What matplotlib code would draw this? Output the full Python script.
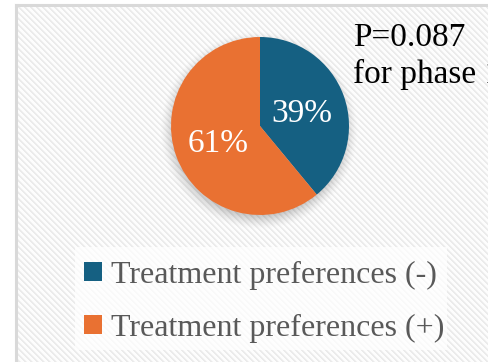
import numpy as np
import matplotlib
matplotlib.use('Agg')
import matplotlib.pyplot as plt
from matplotlib.patches import Rectangle, Patch

plt.rcParams['font.family'] = ['Liberation Serif', 'DejaVu Serif']

labels = ['Treatment preferences (-)', 'Treatment preferences (+)']
shares = [39, 61]
colors = ['#156082', '#e97132']
note = 'P=0.087\nfor phase 1'

W, H = 488, 362
fig = plt.figure(figsize=(W / 100, H / 100), dpi=100)
fig.patch.set_facecolor('white')

# chart area with diagonal stripe fill (one pixel per image cell)
x0, y0 = 16, 5
bw, bh = W - x0, H - y0
bg = fig.add_axes([x0 / W, 0, bw / W, bh / H])
cols, rows = np.meshgrid(np.arange(bw), np.arange(bh))
phase = (cols - rows) % 6
tone = np.where(phase < 2, 0.925, np.where(phase == 2, 0.96, 0.995))
bg.imshow(np.dstack([tone, tone, tone]), extent=(0, bw, bh, 0),
          interpolation='nearest', aspect='auto')
bg.set_xlim(0, bw)
bg.set_ylim(bh, 0)
bg.axis('off')
fig.add_artist(plt.Line2D([x0 / W, x0 / W], [0, bh / H], color='#d9d9d9', lw=2.2))
fig.add_artist(plt.Line2D([x0 / W, 1], [bh / H, bh / H], color='#d9d9d9', lw=2.2))

# pie
cx, cy, r = 260, 126, 89
pad = 1.2
ax = fig.add_axes([(cx - r * pad) / W, (H - cy - r * pad) / H,
                   2 * r * pad / W, 2 * r * pad / H])
ax.set_aspect('equal')

# soft shadow under the pie
g = np.linspace(-pad, pad, 300)
xx, yy = np.meshgrid(g, g)
dist = np.sqrt((xx + 0.01) ** 2 + (yy + 0.05) ** 2)
alpha = np.clip((1.12 - dist) / 0.16, 0, 1) ** 1.5 * 0.2
shade = np.zeros((300, 300, 4))
shade[..., 3] = alpha
ax.imshow(shade, extent=(-pad, pad, -pad, pad), origin='lower', zorder=0)

wedges, texts, autotexts = ax.pie(
    shares, colors=colors, startangle=90, counterclock=False,
    autopct='%d%%', pctdistance=0.5,
    textprops=dict(color='white', fontsize=24),
    wedgeprops=dict(linewidth=0))
for w in wedges:
    w.set_zorder(2)
for t in autotexts:
    t.set_zorder(3)
    t.set_y(t.get_position()[1] - 0.03)
ax.set_xlim(-pad, pad)
ax.set_ylim(-pad, pad)
ax.axis('off')

fig.text(353 / W, 1 - 23 / H, note, ha='left', va='top', fontsize=24,
         color='black', linespacing=1.22)

# legend block
fig.patches.append(Rectangle((75 / W, 1 - 350 / H), (447 - 75) / W, (350 - 247) / H,
                             transform=fig.transFigure, facecolor='white',
                             alpha=0.75, edgecolor='none'))
handles = [Patch(facecolor=c, edgecolor='none') for c in colors]
leg = fig.legend(handles, labels, loc='center left',
                 bbox_to_anchor=(84 / W, 1 - 302 / H), frameon=False,
                 fontsize=23, labelcolor='#595959', handlelength=0.55,
                 handleheight=0.55, handletextpad=0.3, labelspacing=0.75,
                 borderpad=0, borderaxespad=0)

fig.savefig('out.png', dpi=100)
